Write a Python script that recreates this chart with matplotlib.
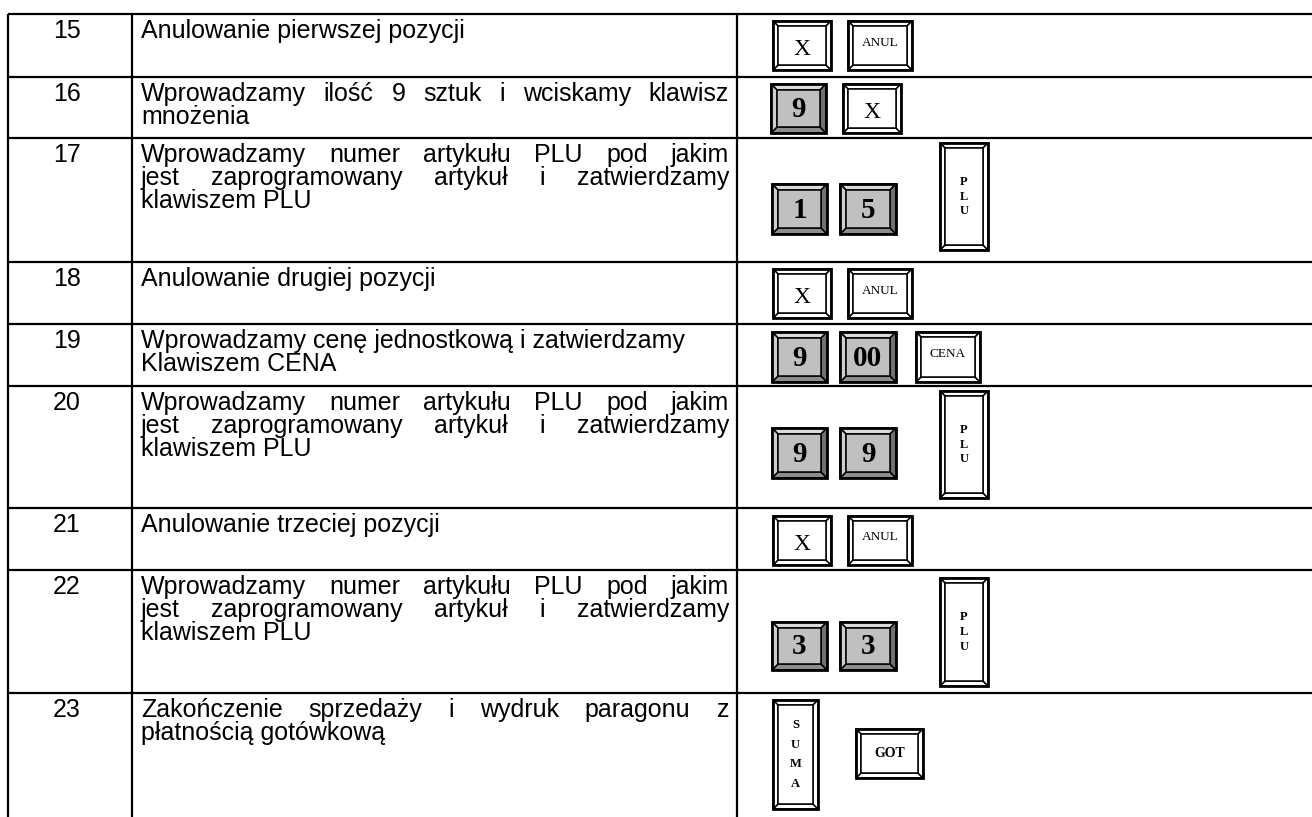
import matplotlib
matplotlib.use('Agg')
import matplotlib.pyplot as plt
from matplotlib.patches import Rectangle, Polygon

# table content
row_numbers = ['15', '16', '17', '18', '19', '20', '21', '22', '23']
row_lines = [
    ['Anulowanie pierwszej pozycji'],
    ['Wprowadzamy ilość 9 sztuk i wciskamy klawisz', 'mnożenia'],
    ['Wprowadzamy numer artykułu PLU pod jakim',
     'jest zaprogramowany artykuł i zatwierdzamy', 'klawiszem PLU'],
    ['Anulowanie drugiej pozycji'],
    ['Wprowadzamy cenę jednostkową i zatwierdzamy', 'Klawiszem CENA'],
    ['Wprowadzamy numer artykułu PLU pod jakim',
     'jest zaprogramowany artykuł i zatwierdzamy', 'klawiszem PLU'],
    ['Anulowanie trzeciej pozycji'],
    ['Wprowadzamy numer artykułu PLU pod jakim',
     'jest zaprogramowany artykuł i  zatwierdzamy', 'klawiszem PLU'],
    ['Zakończenie sprzedaży i wydruk paragonu z', 'płatnością gotówkową'],
]
row_keys = [
    ['X', 'ANUL'],
    ['9', 'X'],
    ['1', '5', 'PLU'],
    ['X', 'ANUL'],
    ['9', '00', 'CENA'],
    ['9', '9', 'PLU'],
    ['X', 'ANUL'],
    ['3', '3', 'PLU'],
    ['SUMA', 'GOT'],
]

# layout (pixels)
W, H = 1312, 817
row_edges = [14, 77, 138, 262, 324, 386, 508, 570, 693, 817]
col_x = [8, 132, 737]
text_left, text_right = 141, 729
row_justify = [True, True, True, True, False, True, True, True, True]
key_boxes = [
    [(773, 21, 58, 49), (848, 21, 64, 49)],
    [(771, 84, 55, 49), (843, 84, 58, 49)],
    [(772, 184, 55, 50), (840, 184, 56, 50), (940, 143, 48, 107)],
    [(773, 269, 58, 49), (848, 269, 64, 49)],
    [(772, 332, 55, 50), (840, 332, 56, 50), (916, 332, 64, 50)],
    [(772, 428, 55, 50), (840, 428, 56, 50), (940, 391, 48, 107)],
    [(773, 516, 58, 49), (848, 516, 64, 49)],
    [(772, 622, 55, 48), (840, 622, 56, 48), (940, 578, 48, 108)],
    [(773, 700, 45, 109), (856, 729, 67, 49)],
]

sans = 'Liberation Sans'
serif = 'Liberation Serif'
fs_text = 18
line_gap = 23

fig = plt.figure(figsize=(W / 100, H / 100), dpi=100)
ax = fig.add_axes([0, 0, 1, 1])
ax.set_xlim(0, W)
ax.set_ylim(H, 0)
ax.axis('off')
renderer = fig.canvas.get_renderer()

# grid lines
lw = 1.6
for y in row_edges[:-1]:
    ax.plot([col_x[0], W], [y, y], color='black', lw=lw, solid_capstyle='butt')
for x in col_x:
    ax.plot([x, x], [row_edges[0], H], color='black', lw=lw, solid_capstyle='butt')


def draw_line(y, line, justify):
    if not justify:
        ax.text(text_left, y, line, family=sans, fontsize=fs_text, va='baseline')
        return
    words = line.split()
    arts = [ax.text(text_left, y, w, family=sans, fontsize=fs_text, va='baseline') for w in words]
    widths = [a.get_window_extent(renderer).width for a in arts]
    gap = (text_right - text_left - sum(widths)) / (len(words) - 1)
    x = text_left
    for a, wd in zip(arts, widths):
        a.set_x(x)
        x += wd + gap


def draw_key(box, label):
    x, y, w, h = box
    gray = label.isdigit()
    if gray:
        b = 6
        face = '#c0c0c0'
        cols = ['#dadada', '#8c8c8c', '#cfcfcf', '#707070']
    else:
        b = 5
        face = 'white'
        cols = ['white'] * 4
    polys = [
        [(x, y), (x + w, y), (x + w - b, y + b), (x + b, y + b)],
        [(x, y + h), (x + w, y + h), (x + w - b, y + h - b), (x + b, y + h - b)],
        [(x, y), (x + b, y + b), (x + b, y + h - b), (x, y + h)],
        [(x + w, y), (x + w - b, y + b), (x + w - b, y + h - b), (x + w, y + h)],
    ]
    for p, c in zip(polys, cols):
        ax.add_patch(Polygon(p, closed=True, facecolor=c, edgecolor='black', lw=1.1))
    ax.add_patch(Rectangle((x + b, y + b), w - 2 * b, h - 2 * b, facecolor=face,
                           edgecolor='black', lw=1.1))
    ax.add_patch(Rectangle((x, y), w, h, fill=False, edgecolor='black', lw=2))
    cx, cy = x + w / 2, y + h / 2
    if gray:
        ax.text(cx, cy + 1, label, family=serif, fontsize=21, fontweight='bold',
                ha='center', va='center')
    elif label == 'X':
        ax.text(cx, cy + 4, label, family=serif, fontsize=17, ha='center', va='center')
    elif label in ('ANUL', 'CENA'):
        ax.text(cx, cy - 3, label, family=serif, fontsize=9.5, ha='center', va='center')
    elif label == 'GOT':
        ax.text(cx, cy, label, family=serif, fontsize=10, fontweight='bold',
                ha='center', va='center')
    else:
        n = len(label)
        step = 14.5 if n == 3 else 19.5
        y0 = cy - step * (n - 1) / 2
        for i, ch in enumerate(label):
            ax.text(cx, y0 + i * step, ch, family=serif, fontsize=9, fontweight='bold',
                    ha='center', va='center')


for i, num in enumerate(row_numbers):
    top = row_edges[i]
    base = top + 24
    ax.text(67, base, num, family=sans, fontsize=fs_text, ha='center', va='baseline')
    lines = row_lines[i]
    for j, line in enumerate(lines):
        last = j == len(lines) - 1
        draw_line(base + j * line_gap, line, row_justify[i] and not last)
    for box, label in zip(key_boxes[i], row_keys[i]):
        draw_key(box, label)

fig.savefig('out.png', dpi=100)
